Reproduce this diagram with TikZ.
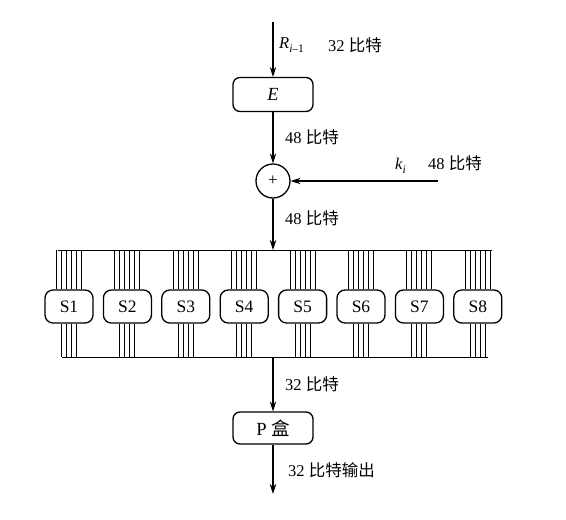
\documentclass[tikz,border=0pt]{standalone}
\usepackage{fontspec}
\setmainfont{Liberation Serif}
\newfontfamily\cjk{Noto Sans CJK SC}
\usetikzlibrary{arrows.meta}
\begin{document}
\begin{tikzpicture}[x=1pt,y=-1pt, font=\fontsize{16.5}{19}\selectfont,
 box/.style={draw, line width=1.3pt, rounded corners=7pt, minimum width=80pt, minimum height=34pt, inner sep=0pt, font=\fontsize{18.5}{21}\selectfont},
 sbox/.style={draw, line width=1.3pt, rounded corners=8pt, minimum width=48pt, minimum height=33pt, inner sep=0pt, font=\fontsize{17.5}{20}\selectfont},
 xorc/.style={draw, circle, line width=1.3pt, minimum size=34pt, inner sep=0pt, font=\fontsize{17}{19}\selectfont},
 arr/.style={line width=1.1pt, -{Stealth[length=10pt,width=6.5pt]}},
 wire/.style={line width=1pt},
 lbl/.style={anchor=west, inner sep=0pt}]
\useasboundingbox (0,0) rectangle (566,520);
\coordinate (top) at (273,22);
\node[box] (E) at (273,94.5) {\itshape E};
\node[xorc] (x) at (273,181) {+};
\coordinate (kin) at (438,181);
\coordinate (topbar) at (273,250);
\coordinate (botbar) at (273,357);
\node[box, minimum height=32pt] (P) at (273,428) {P {\cjk 盒}};
\coordinate (out) at (273,494);
\coordinate (tl) at (58,250);
\coordinate (tr) at (492,250);
\coordinate (bl) at (62,357);
\coordinate (br) at (488,357);
% arrows
\draw[arr] (top) -- (E);
\draw[arr] (E) -- (x);
\draw[arr] (kin) -- (x);
\draw[arr] (x) -- (topbar);
\draw[arr] (botbar) -- (P);
\draw[arr] (P) -- (out);
% bars
\draw[wire] (tl) -- (tr);
\draw[wire] (bl) -- (br);
% S boxes
\foreach \k in {1,...,8} {
  \node[sbox] (s\k) at ({69+58.4*(\k-1)},306.5) {S\k};
  \foreach \o in {-12.5,-7.5,-2.5,2.5,7.5,12.5} {
    \path ([xshift=\o pt]s\k.north) coordinate (t);
    \draw[wire] (t) -- (t |- topbar);
  }
  \foreach \o in {-7.5,-2.5,2.5,7.5} {
    \path ([xshift=\o pt]s\k.south) coordinate (b);
    \draw[wire] (b) -- (b |- botbar);
  }
}
% labels
\node[lbl] (lR) at (279,45) {\itshape R\raisebox{-4pt}{\fontsize{11.5}{13}\selectfont i\upshape \textendash1}};
\node[lbl] (l1) at (328,45) {32 {\cjk 比特}};
\node[lbl] (l2) at (285,137) {48 {\cjk 比特}};
\node[lbl] (lk) at (395,166) {\itshape k\raisebox{-4pt}{\fontsize{11.5}{13}\selectfont i}};
\node[lbl] (l3) at (428,163) {48 {\cjk 比特}};
\node[lbl] (l4) at (285,218) {48 {\cjk 比特}};
\node[lbl] (l5) at (285,384) {32 {\cjk 比特}};
\node[lbl] (l6) at (288,470) {32 {\cjk 比特输出}};
\end{tikzpicture}
\end{document}
